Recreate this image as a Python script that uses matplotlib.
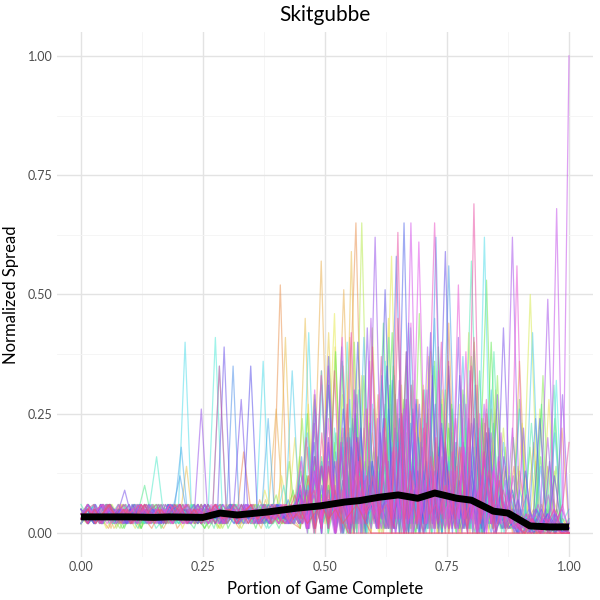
import colorsys
import numpy as np
import matplotlib
matplotlib.use("Agg")
import matplotlib.pyplot as plt

plt.rcParams['font.family'] = ['Lato', 'DejaVu Sans']

# normalized spread per game, in hundredths, evenly spaced over the game
g00 = "3 5 2 4 6 3 2 5 4 3 1 4 5 2 3 6 4 2 3 5 2 4 3 17 5 3 2 4 5 3 2 1 9 2 14 3 6 0 22 4 11 2 7 1 18 5 3 12 0 25 4 8 2 16 1 6 3 20 2 9 1 4 13 2 5 1 3 0 2 1"
g01 = "4 2 5 3 1 4 6 2 3 5 2 4 3 6 1 3 5 2 4 3 5 2 6 3 4 2 7 3 5 52 3 6 2 8 4 15 1 10 3 24 65 4 2 12 0 19 3 7 1 28 2 9 5 3 17 0 11 2 6 21 1 8 3 14 2 4 1 6 2 0 3 1"
g02 = "2 4 3 5 1 6 3 2 4 5 3 1 4 2 5 3 6 2 4 3 5 2 3 4 1 6 26 3 5 2 4 7 57 3 9 51 2 13 0 18 5 6 1 23 3 10 2 15 4 1 19 2 8 0 12 3 5 2 1 4 0 2 3 1 0 2"
g03 = "3 6 2 4 5 1 3 4 6 2 5 3 2 4 6 3 14 2 5 3 4 2 6 3 1 5 4 3 7 2 5 41 4 8 45 3 11 2 20 5 1 59 3 9 0 16 4 27 2 6 1 13 3 22 0 7 5 18 2 10 1 24 3 8 2 6 1 4 0 3 1 5 2 0 1"
g04 = "5 3 4 2 6 4 3 5 1 4 2 6 3 5 4 2 3 6 4 1 5 3 2 4 6 3 5 2 4 8 3 12 2 7 42 4 15 1 9 2 21 5 3 14 0 10 4 31 2 6 1 17 3 11 0 8 2 26 3 1 5 2 4 0 1 3 2 1"
g05 = "2 5 3 4 1 3 6 2 5 4 3 2 4 5 3 6 1 4 2 5 3 4 2 6 5 3 4 2 3 9 4 5 2 6 3 7 2 10 4 13 46 1 8 3 19 2 6 0 15 58 4 11 1 22 3 7 2 30 5 9 0 16 3 12 1 20 4 6 3 1 4 2 0 5 1 2 0 1"
g06 = "4 3 5 2 6 3 4 1 5 3 2 4 6 3 5 2 4 3 1 5 3 6 2 4 5 3 2 6 3 9 1 14 2 5 18 0 7 3 11 2 24 4 8 1 13 3 6 2 19 0 10 4 5 1 9 2 6 3 50 4 1 7 2 0"
g07 = "3 2 4 6 3 5 2 4 3 1 5 4 2 6 3 4 5 2 3 6 4 2 5 3 1 4 6 3 2 5 4 3 6 2 12 3 8 1 17 4 10 2 65 5 9 0 21 3 14 2 6 1 26 4 11 0 7 3 18 2 5 1 8 3 1 5 2 4 0 2 1 3 0 1"
g08 = "5 2 4 3 6 1 4 5 3 2 4 6 2 5 3 4 2 6 3 5 1 4 3 5 2 6 4 3 5 2 4 9 1 16 3 7 2 29 4 12 0 8 3 20 1 5 35 2 11 4 6 0 23 3 9 1 14 2 7 4 18 2 5 1 3 0 4 2 1 3"
g09 = "3 4 2 5 6 3 1 4 5 2 3 6 4 2 5 3 4 6 2 3 5 1 4 3 6 2 5 4 3 2 6 4 3 5 2 11 4 7 1 19 3 13 0 8 5 26 2 10 3 6 1 32 4 15 2 9 0 21 3 12 5 7 1 17 2 4 6 2 1 3 0 4 2 1 3 2"
g10 = "2 5 4 3 6 2 3 5 1 4 6 3 2 4 5 3 6 1 4 2 5 3 4 6 2 5 3 4 2 7 3 14 1 9 4 22 2 6 0 17 3 11 5 28 1 8 2 13 4 6 0 19 2 10 3 5 1 4 2 0 3 1 5 2 0 1"
g11 = "4 6 3 2 5 4 1 3 6 5 2 4 3 5 6 2 4 3 1 5 4 2 6 3 5 4 2 3 6 4 3 2 8 1 13 4 6 2 20 3 10 0 15 4 7 1 25 2 9 3 12 0 18 5 6 2 22 3 11 53 1 8 2 5 1 3 0 2 4 1 0 2"
g12 = "3 5 4 2 6 3 5 1 4 3 2 6 5 3 4 2 5 3 6 4 1 3 5 2 4 6 3 5 2 4 3 6 2 5 4 3 10 2 6 1 15 4 9 0 24 3 7 2 13 1 31 4 8 0 18 2 11 3 5 1 27 2 14 4 9 0 16 3 6 1 20 2 4 1 3 0 2 5 1 2"
g13 = "5 3 2 4 6 3 4 5 2 3 6 1 4 5 3 2 4 6 3 5 2 4 3 5 1 6 4 3 2 5 4 12 1 8 3 21 0 6 2 15 4 9 1 33 3 7 0 13 2 18 5 10 1 6 3 24 2 8 3 1 4 0 2 1 3 0 2 1"
g14 = "2 4 6 3 5 2 4 3 6 1 5 3 4 2 6 5 3 4 2 5 3 6 1 4 5 3 2 6 4 3 5 2 4 7 1 16 3 10 2 5 0 22 4 8 2 14 1 29 3 6 0 11 5 19 2 9 1 13 3 7 0 3 5 1 2 4 0 3 1 2 0 1 2 0"
g15 = "3 5 2 6 4 3 5 2 4 10 3 5 2 4 6 3 1 5 4 2 6 3 4 5 2 3 6 4 1 5 3 6 2 11 4 17 0 8 3 25 1 9 2 14 4 6 0 19 3 10 1 27 2 7 3 12 0 16 4 5 2 8 1 3 0 2 4 1 2 0"
g16 = "4 2 5 3 6 2 4 5 3 1 4 6 2 5 3 4 6 2 3 5 4 1 6 3 5 2 4 3 6 2 5 3 4 2 6 3 8 2 13 0 6 4 20 1 9 3 15 2 27 0 7 4 11 1 22 3 5 0 14 2 8 4 18 1 10 3 6 2 4 1 3 0 5 2 1 3 0 2"
g17 = "2 6 4 3 5 2 6 3 4 5 1 3 6 2 4 5 3 2 6 4 3 5 2 4 6 1 3 5 4 9 2 15 1 7 3 21 0 11 4 6 2 18 1 26 3 8 0 13 4 5 2 4 57 1 9 3 12 2 5 1 3 0 2 4 1 0"
g18 = "3 5 2 4 6 3 4 2 5 3 6 16 4 2 5 3 6 4 2 5 3 4 6 2 5 3 4 1 6 3 5 2 7 1 12 3 18 0 9 4 6 2 23 1 10 3 15 0 8 4 30 2 6 1 14 3 11 0 20 2 7 4 3 1 5 2 0 3 1 4 2 0"
g19 = "4 3 6 2 5 3 4 5 2 6 3 4 2 5 6 3 4 2 5 41 4 3 6 2 5 3 4 2 6 3 5 2 10 1 16 4 8 0 22 3 13 1 6 4 19 2 28 0 9 3 12 1 7 4 24 2 11 0 15 3 6 1 9 4 2 0 3 1 2 5"
g20 = "3 5 4 2 6 3 5 2 4 6 3 5 2 4 3 6 40 4 5 3 2 6 4 3 5 2 4 6 36 3 5 4 2 6 3 42 4 9 2 14 1 7 3 20 0 11 5 8 2 17 1 25 3 6 0 13 4 9 2 18 1 6 62 3 12 0 4 2 5 1 3 0 2 4 1 0"
g21 = "5 3 2 6 4 3 5 2 4 6 3 5 4 2 6 3 5 4 2 35 3 6 4 2 5 3 4 6 2 34 4 3 9 1 15 3 7 0 20 2 12 4 6 1 17 3 27 0 8 2 14 4 5 1 11 3 7 0 19 2 5 3 42 1 4 2 0 3"
g22 = "2 4 6 3 5 2 4 3 6 5 2 4 3 6 5 18 3 4 2 6 5 3 4 2 6 3 5 4 24 3 5 2 6 4 10 1 15 3 8 0 21 2 13 4 6 1 26 3 9 0 16 2 11 4 7 1 19 3 5 0 12 2 4 1 3 0 2 5 1 3 0 2 1 0"
g23 = "4 2 5 3 6 4 2 5 3 4 6 2 3 5 12 4 6 2 5 3 4 6 2 3 5 4 2 6 3 5 4 8 2 13 1 6 4 19 0 10 3 15 2 7 1 24 4 9 0 12 3 5 56 8 1 17 4 6 0 11 3 5 2 1 3 0 2 4 1 2"
g24 = "3 5 2 4 6 3 5 4 2 6 3 4 5 2 6 3 4 2 5 3 6 4 2 5 35 3 6 4 2 5 3 6 4 2 5 3 7 1 14 3 9 0 20 2 11 4 6 1 17 3 8 0 23 2 13 4 62 1 10 3 7 0 16 2 12 4 5 1 3 0 2 4 1 3 0 2 1 0"
g25 = "5 2 4 6 3 5 2 4 3 6 4 2 5 3 6 4 2 5 3 4 6 2 5 3 4 2 6 3 5 2 9 1 14 3 7 0 18 2 12 4 6 1 58 3 10 0 15 2 22 4 8 1 13 3 6 0 3 1 4 2 0 1 3 0 2 1"
g26 = "3 6 4 2 5 3 4 6 2 5 3 4 2 6 5 3 2 4 6 3 5 2 4 3 6 5 2 4 3 6 2 5 8 1 12 3 19 0 7 2 15 4 10 1 24 3 6 65 2 13 0 9 4 18 1 11 3 7 0 21 2 8 4 1 3 0 2 5 1 2 0 1"
g27 = "4 2 5 3 6 2 4 5 3 6 2 4 3 5 6 2 4 3 5 2 6 4 3 5 35 2 4 6 3 5 2 9 1 16 3 7 0 11 2 20 4 6 1 51 3 8 0 14 2 10 4 23 1 7 3 12 0 17 2 6 4 9 1 3 0 2 4 1 2 0"
g28 = "3 5 2 6 4 3 5 2 4 6 3 5 4 2 6 3 5 4 2 6 3 5 39 4 2 6 3 5 4 2 6 3 5 4 2 6 3 10 1 15 4 8 0 22 2 13 5 7 1 18 3 26 0 9 2 14 59 6 1 11 3 20 0 8 2 16 4 1 3 0 5 2 1 4 0 2"
g29 = "4 3 5 2 6 4 9 3 5 2 4 6 3 5 2 4 6 3 5 2 4 6 28 3 5 2 4 6 3 5 2 4 8 1 14 3 6 0 19 2 11 4 7 1 25 3 9 0 13 2 17 4 6 1 10 3 22 0 43 2 7 1 3 0 4 2 1 0"
g30 = "3 5 4 2 6 3 5 2 4 6 3 5 2 4 6 3 4 5 26 3 6 2 4 5 3 6 2 4 5 3 6 2 4 7 1 13 3 9 0 18 2 11 4 6 62 3 15 0 8 2 21 4 10 1 16 3 7 0 24 2 12 4 6 1 9 3 0 2 5 1 3 0 2 1"
g31 = "5 2 4 6 3 5 2 4 3 6 5 2 4 3 6 2 5 4 3 6 2 4 5 3 6 2 4 5 3 2 6 3 9 1 14 4 7 0 20 2 11 5 6 1 17 3 28 0 8 2 13 4 10 1 16 3 7 0 21 2 5 62 3 8 1 4 49 2 5 1"
g32 = "3 6 4 2 5 3 6 4 2 5 3 6 2 4 5 3 6 2 4 5 3 4 6 2 5 3 4 6 2 5 3 4 2 6 5 3 9 1 14 3 7 0 19 2 11 4 6 1 24 3 8 0 15 2 10 4 30 1 7 3 13 0 18 2 9 4 6 1 21 3 12 0 4 2 6 1 5 68 3 100"
g33 = "4 2 6 3 5 4 2 6 3 5 4 2 6 5 3 4 2 6 3 5 4 2 5 3 6 4 2 5 3 6 4 2 7 1 12 3 18 0 9 2 14 4 6 1 22 3 8 0 65 2 11 4 16 1 7 3 27 0 10 2 13 4 5 1 3 0 4 2 8 1 0 2"
g34 = "3 5 2 6 4 3 5 2 6 4 3 5 2 4 6 3 5 2 4 6 3 5 2 4 6 3 5 4 2 8 1 13 3 20 0 9 2 15 4 7 1 11 3 26 0 61 2 12 4 6 1 18 3 9 0 14 2 4 1 3 0 2 1 5 0 1"
g35 = "4 6 3 5 2 4 6 3 5 2 4 6 3 5 2 4 6 3 5 2 6 4 3 5 2 6 4 3 5 2 4 6 3 5 2 4 9 1 15 3 7 0 21 2 12 4 6 1 18 3 28 0 8 2 14 4 10 1 52 3 7 0 16 2 11 4 2 56 1 4 0 3 2 1 6 0"
g36 = "3 5 4 2 6 3 5 4 2 6 3 5 4 2 6 3 5 2 4 6 3 5 2 4 6 3 5 4 2 6 3 10 1 16 3 8 0 22 2 13 4 7 1 19 3 9 0 11 2 15 65 9 1 24 3 6 0 17 2 12 4 8 1 4 2 0 3 1 2 0"
g37 = "4 2 5 3 6 4 2 5 3 6 4 2 5 3 6 4 2 5 3 6 2 4 5 3 6 2 4 5 3 6 2 4 5 3 6 2 8 1 14 3 10 0 19 2 12 4 7 1 17 3 63 0 9 2 22 4 6 1 13 3 8 0 69 2 11 4 15 1 5 2 0 3 1 4 0 2 6 19"
g38 = "3 5 2 4 6 3 5 2 4 6 3 5 2 4 6 3 5 4 2 35 3 6 4 2 5 3 6 4 2 5 3 6 9 1 14 3 7 0 20 2 12 4 6 1 25 3 8 0 16 2 10 4 18 1 7 3 13 0 9 2 4 1 3 0 2 5 1 0"
g39 = "4 2 5 3 6 4 2 5 3 6 4 2 5 3 6 4 2 5 3 6 2 4 5 3 6 2 4 5 3 6 2 4 8 3 12 1 6 2 9 3 0 0 0 0 0 0 0 0 0 0 0 0 0 0 0 0 0 0 0 0 0 0 0 0 0 0 0 0 0 0 0 0 0 0"
h00 = "4 3 5 2 6 3 4 2 5 6 3 4 2 5 3 6 4 2 5 3 4 6 3 2 5 4 3 6 2 5 3 1 18 2 34 0 12 3 41 1 22 0 29 2 15 1 38 0 24 3 11 1 44 2 19 0 31 1 26 3 14 0 36 2 19 1 14 0 22 1"
h01 = "3 6 2 4 5 3 6 2 4 5 3 2 6 4 3 5 2 6 4 3 5 2 4 6 3 5 2 4 6 3 12 4 20 2 27 1 16 0 39 3 21 1 33 0 13 2 45 1 25 0 18 3 37 1 28 0 11 2 42 1 23 0 30 2 8 1 23 0 15 2 28 1 3 0"
h02 = "5 2 4 6 3 5 2 4 3 6 2 5 4 3 6 2 4 5 3 6 2 4 3 5 6 2 4 3 5 2 16 1 29 3 10 0 35 2 20 1 43 0 14 2 31 1 24 3 38 0 17 2 27 1 40 0 12 3 22 1 14 0 2 26 1 13 0 2"
h03 = "2 5 3 6 4 2 5 3 6 4 2 5 3 6 4 2 5 3 6 4 2 5 3 6 4 2 5 3 6 4 8 2 15 3 24 1 11 0 32 2 19 1 40 0 26 3 13 1 35 0 21 2 46 1 17 0 30 3 12 1 37 0 23 2 33 1 5 0 2 18 1 33 0 14 1 0"
h04 = "4 6 2 5 3 4 6 2 5 3 4 6 2 5 3 4 6 2 5 3 4 6 2 5 3 4 6 2 5 3 9 1 25 0 14 2 38 1 20 0 33 3 16 1 42 0 27 2 11 1 36 0 22 3 30 1 18 0 40 2 13 1 28 3 1 16 0 24 1 0"
h05 = "3 4 6 2 5 3 4 6 2 5 3 4 6 2 5 3 4 6 2 5 3 4 6 2 5 3 4 6 2 5 3 4 13 0 28 2 19 1 36 0 24 3 15 1 44 0 21 2 31 1 12 0 39 3 26 1 17 0 34 2 23 1 9 0 4 2 1 27 0 3 1 2"
h06 = "6 3 5 2 4 6 3 5 2 4 6 3 5 2 4 6 3 5 2 4 6 3 5 2 4 6 3 5 2 11 1 23 0 37 2 18 1 30 0 14 3 41 1 25 0 20 2 35 1 16 0 29 3 22 1 38 0 12 5 1 23 0 2 31 0 1"
h07 = "2 4 6 3 5 2 4 6 3 5 2 4 6 3 5 2 4 6 3 5 2 4 6 3 5 2 4 6 3 5 2 4 10 3 7 2 18 1 31 0 22 2 40 1 15 0 27 3 36 1 19 0 43 2 24 1 12 0 33 3 20 1 38 0 26 2 14 1 7 0 3 1 5 2 0 32 1 0"
h08 = "5 3 4 6 2 5 3 4 6 2 5 3 4 6 2 5 3 4 6 2 5 3 4 6 2 5 3 4 6 2 5 2 21 0 34 1 17 3 28 0 41 2 13 1 32 0 24 3 19 1 45 0 15 2 37 1 23 0 30 3 11 1 26 2 0 14 1 21 0 1"
h09 = "3 5 2 6 4 3 5 2 6 4 3 5 2 6 4 3 5 2 6 4 3 5 2 6 4 3 5 2 6 4 3 7 2 16 1 29 0 20 2 39 1 25 0 14 3 33 1 22 0 44 2 18 1 27 0 35 3 13 1 31 0 21 2 9 1 4 0 2 24 1 3 0 2 1"
h10 = "4 2 6 3 5 4 2 6 3 5 4 2 6 3 5 4 2 6 3 5 4 2 6 3 5 4 2 6 3 5 8 1 19 0 31 2 26 1 40 0 15 3 35 1 21 0 28 2 42 1 17 0 33 3 24 1 12 0 6 2 0 13 1 24 0 12 1 0"
h11 = "5 4 2 6 3 5 4 2 6 3 5 4 2 6 3 5 4 2 6 3 5 4 2 6 3 5 4 2 6 3 5 4 2 6 12 1 26 0 35 2 17 1 30 0 43 3 21 1 14 0 38 2 27 1 33 0 19 3 41 1 23 0 16 2 29 1 4 0 22 1 3 0 15 1 29 2"
h12 = "3 6 4 2 5 3 6 4 2 5 3 6 4 2 5 3 6 4 2 5 3 6 4 2 5 3 6 4 2 5 3 10 0 23 1 37 2 14 0 29 3 45 1 18 0 32 2 25 1 39 0 20 3 13 1 34 0 27 2 16 1 22 0 3 1 0 20 1 0 0"
h13 = "2 5 4 6 3 2 5 4 6 3 2 5 4 6 3 2 5 4 6 3 2 5 4 6 3 2 5 4 6 3 2 5 15 1 30 0 24 2 41 1 19 0 36 3 12 1 28 0 44 2 21 1 34 0 17 3 38 1 25 0 13 2 8 0 3 1 2 0 4 1 0 0"
h14 = "4 3 5 6 2 4 3 5 6 2 4 3 5 6 2 4 3 5 6 2 4 3 5 6 2 4 3 5 6 2 20 0 33 1 15 3 42 0 26 2 37 1 18 0 31 3 23 1 40 0 14 2 35 1 28 0 5 1 2 0 3 1 0 2 0 0"
h15 = "3 5 6 2 4 3 5 6 2 4 3 5 6 2 4 3 5 6 2 4 3 5 6 2 4 3 5 6 2 4 3 5 6 2 4 3 9 0 21 1 34 2 27 0 16 3 39 1 24 0 45 2 13 1 30 0 20 3 36 1 18 0 41 2 25 1 11 0 4 1 0 2 0 1 0 0 0 0"
h16 = "3 5 2 4 6 3 5 2 4 6 3 5 2 4 6 3 5 2 4 6 3 5 2 4 6 3 5 2 4 6 3 5 2 4 6 3 5 2 4 6 3 0 0 0 0 0 0 0 0 0 0 0 0 0 0 0 0 0 0 0 0 0 0 0 0 0 0 0 0 0"

games = [g00, g01, h00, g02, g03, g04, h01, g05, g06, h02, g07, g08, g09, h03,
         g10, g11, h04, g12, g13, g14, h05, g15, g16, h06, g17, g18, g19, h07,
         g20, g21, h08, g22, g23, g24, h09, g25, g26, h10, g27, g28, g29, h11,
         g30, g31, h12, g32, g33, g34, h13, g35, g36, h14, g37, g38, h15, g39, h16]

# smoothed mean across games
mean_x = [0, 0.05, 0.10, 0.15, 0.18, 0.25, 0.285, 0.32, 0.38, 0.44, 0.49, 0.54,
          0.57, 0.61, 0.65, 0.69, 0.725, 0.77, 0.80, 0.845, 0.875, 0.92, 0.96, 1.0]
mean_y = [0.034, 0.034, 0.034, 0.033, 0.034, 0.033, 0.042, 0.038, 0.044, 0.052, 0.057, 0.065,
          0.068, 0.075, 0.080, 0.073, 0.084, 0.073, 0.069, 0.046, 0.042, 0.015, 0.013, 0.013]

fig = plt.figure(figsize=(6, 6), dpi=100)
ax = fig.add_axes([0.0943, 0.0717, 0.8947, 0.875])

n = len(games)
for i, g in enumerate(games):
    y = np.array(g.split(), dtype=float) / 100
    x = np.linspace(0, 1, len(y))
    hue = (20 + 330 * i / (n - 1)) / 360
    col = colorsys.hls_to_rgb(hue, 0.62, 0.78)
    ax.plot(x, y, color=col, alpha=0.55, lw=0.9)

ax.plot(mean_x, mean_y, color='black', lw=5, solid_capstyle='butt', solid_joinstyle='round')

ax.set_xlim(-0.05, 1.05)
ax.set_ylim(-0.05, 1.05)
ticks = [0, 0.25, 0.5, 0.75, 1.0]
ax.set_xticks(ticks)
ax.set_yticks(ticks)
ax.set_xticklabels(['0.00', '0.25', '0.50', '0.75', '1.00'])
ax.set_yticklabels(['0.00', '0.25', '0.50', '0.75', '1.00'])
ax.set_xticks([0.125, 0.375, 0.625, 0.875], minor=True)
ax.set_yticks([0.125, 0.375, 0.625, 0.875], minor=True)
ax.grid(which='major', color='#e3e3e3', lw=1.0)
ax.grid(which='minor', color='#f4f4f4', lw=0.6)
ax.set_axisbelow(True)
for s in ax.spines.values():
    s.set_visible(False)
ax.tick_params(which='both', length=0, labelsize=9, labelcolor='#4d4d4d', pad=3)

ax.set_title('Skitgubbe', fontsize=15, pad=8)
ax.set_xlabel('Portion of Game Complete', fontsize=12, labelpad=6)
ax.set_ylabel('Normalized Spread', fontsize=12, labelpad=6)

fig.savefig('out.png', dpi=100)
